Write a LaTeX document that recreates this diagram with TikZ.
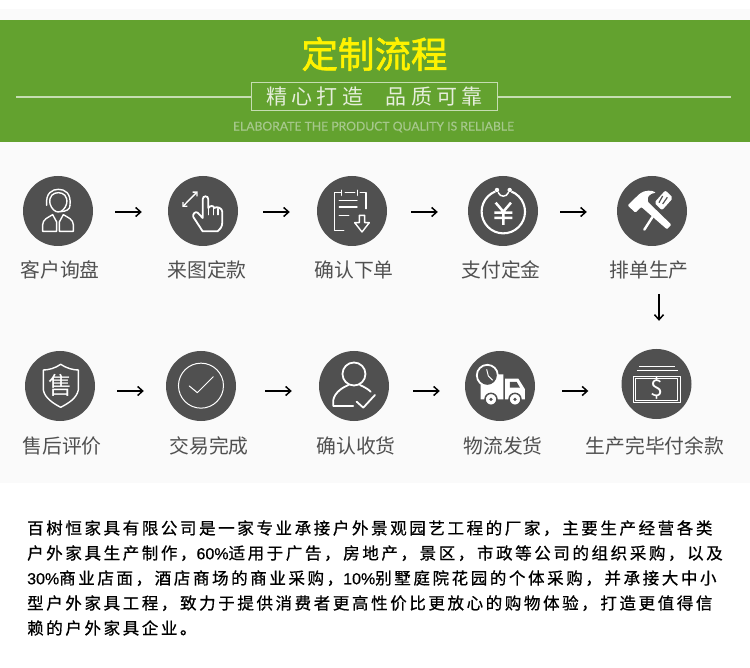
\documentclass[tikz,border=0pt]{standalone}
\usepackage{fontspec}
\setmainfont{Noto Sans CJK SC}
\newfontfamily\latinfont{Lato}
\newfontfamily\digitfont[FakeBold=0.5]{Liberation Sans}
\newcommand{\pct}[1]{{\fontsize{16}{25}\selectfont\digitfont #1\%}}
\usetikzlibrary{arrows.meta}
\definecolor{bannergreen}{HTML}{63A22F}
\definecolor{palegray}{HTML}{FAFAFA}
\definecolor{discgray}{HTML}{505050}
\definecolor{labelgray}{HTML}{505050}
\definecolor{paleline}{HTML}{C6DDB2}
\definecolor{paletext}{HTML}{E6EEDC}
\definecolor{subtext}{HTML}{A6C88C}
\tikzset{
  stepdisc/.style={circle,fill=discgray,minimum size=70pt,inner sep=0pt},
  steplabel/.style={text=labelgray,inner sep=0pt,font=\fontsize{19.8}{24}\selectfont},
  flowarrow/.style={line width=1.8pt,-{Straight Barb[length=5pt,width=9pt,line width=1.5pt]}},
  iconzoom/.style={x=0.3333pt,y=-0.3333pt},
  iconline/.style={draw=white,line width=1.4pt,line join=round,line cap=round},
}
\begin{document}
\begin{tikzpicture}[x=1pt,y=-1pt]
\useasboundingbox (0,0) rectangle (750,668);
\fill[white] (0,0) rectangle (750,668);
\fill[palegray] (0,9) rectangle (750,20);
\fill[bannergreen] (0,20) rectangle (750,142);
\fill[palegray] (0,142) rectangle (750,483);

\node[text=yellow,inner sep=0pt,font=\fontsize{36.5}{40}\selectfont\addfontfeature{FakeBold=1.6}] (title) at (374.5,54) {定制流程};
\node[draw=paleline,line width=0.9pt,minimum width=246pt,minimum height=28pt,inner sep=0pt,text=paletext,font=\fontsize{21}{24}\selectfont\addfontfeature{LetterSpace=20}] (slogan) at (374.5,96.5) {精心打造\hspace{23pt}品质可靠};
\coordinate (ruleleft) at (16,97);
\coordinate (ruleright) at (731,97);
\draw[paleline,line width=1.4pt] (ruleleft) -- (ruleleft -| slogan.west);
\draw[paleline,line width=1.4pt] (ruleright -| slogan.east) -- (ruleright);
\node[text=subtext,inner sep=0pt,font=\fontsize{12.2}{14}\selectfont\latinfont\addfontfeature{FakeBold=0.4}] (subtitle) at (373.5,127) {ELABORATE THE PRODUCT QUALITY IS RELIABLE};

\node[stepdisc] (kehu) at (58,211) {};
\node[stepdisc] (laitu) at (203,211) {};
\node[stepdisc] (queren) at (352,211) {};
\node[stepdisc] (zhifu) at (503,211) {};
\node[stepdisc] (paidan) at (652,211) {};
\node[stepdisc] (pingjia) at (60,386) {};
\node[stepdisc] (jiaoyi) at (201,386) {};
\node[stepdisc] (shouhuo) at (354,386) {};
\node[stepdisc] (wuliu) at (500,386) {};
\node[stepdisc] (yukuan) at (656.5,384) {};

\node[steplabel] (kehutext) at (60,270) {客户询盘};
\node[steplabel] (laitutext) at (207,270) {来图定款};
\node[steplabel] (querentext) at (354,270) {确认下单};
\node[steplabel] (zhifutext) at (501,270) {支付定金};
\node[steplabel] (paidantext) at (649,270) {排单生产};
\node[steplabel] (pingjiatext) at (62,446) {售后评价};
\node[steplabel] (jiaoyitext) at (209,446) {交易完成};
\node[steplabel] (shouhuotext) at (356,446) {确认收货};
\node[steplabel] (wuliutext) at (503,446) {物流发货};
\node[steplabel] (yukuantext) at (655,446) {生产完毕付余款};

\draw[flowarrow,shorten <=22pt,shorten >=26pt] ([yshift=-1pt]kehu.east) -- ([yshift=-1pt]laitu.west);
\draw[flowarrow,shorten <=25pt,shorten >=27pt] ([yshift=-1pt]laitu.east) -- ([yshift=-1pt]queren.west);
\draw[flowarrow,shorten <=24pt,shorten >=30pt] ([yshift=-1pt]queren.east) -- ([yshift=-1pt]zhifu.west);
\draw[flowarrow,shorten <=22pt,shorten >=30pt] ([yshift=-1pt]zhifu.east) -- ([yshift=-1pt]paidan.west);
\coordinate (downstart) at (659,294);
\draw[flowarrow,shorten >=28pt] (downstart) -- (downstart |- yukuan.north);
\draw[flowarrow,shorten <=22pt,shorten >=22pt] ([yshift=-5pt]pingjia.east) -- ([yshift=-5pt]jiaoyi.west);
\draw[flowarrow,shorten <=29pt,shorten >=27pt] ([yshift=-5pt]jiaoyi.east) -- ([yshift=-5pt]shouhuo.west);
\draw[flowarrow,shorten <=24pt,shorten >=25pt] ([yshift=-5pt]shouhuo.east) -- ([yshift=-5pt]wuliu.west);
\draw[flowarrow,shorten <=27pt,shorten >=33pt] ([yshift=-5pt]wuliu.east) -- ([yshift=-7pt]yukuan.west);

\begin{scope}[shift={(20,172)},iconzoom]
\draw[iconline] (80,100) .. controls (76,62) and (98,52) .. (115,52) .. controls (134,52) and (154,62) .. (150,100);
\draw[iconline] (90,95) .. controls (86,72) and (100,62) .. (115,62) .. controls (130,62) and (144,72) .. (140,95) .. controls (136,110) and (125,120) .. (115,120) .. controls (105,120) and (94,110) .. (90,95);
\draw[iconline] (150,100) .. controls (150,112) and (140,118) .. (122,119);
\draw[iconline] (68,178) -- (68,158) .. controls (68,142) and (85,136) .. (98,128) -- (110,150) -- (110,178) -- cycle;
\draw[iconline] (160,178) -- (160,158) .. controls (160,142) and (143,136) .. (130,128) -- (118,150) -- (118,178) -- cycle;
\end{scope}

\begin{scope}[shift={(165,172)},iconzoom]
\draw[iconline,{Straight Barb[length=3pt,width=6pt]}-{Straight Barb[length=3pt,width=6pt]}] (52,105) -- (98,58);
\draw[iconline,line width=1.8pt] (113,178) -- (85,135) .. controls (82,124) and (92,118) .. (98,122) -- (113,138) -- (113,82) .. controls (113,70) and (130,70) .. (130,82) -- (130,108) .. controls (136,100) and (146,100) .. (148,108) .. controls (156,102) and (172,108) .. (172,120) -- (172,150) .. controls (172,165) and (165,172) .. (158,178) -- cycle;
\draw[iconline] (130,108) -- (130,128) (146,108) -- (146,128) (159,110) -- (159,128);
\end{scope}

\begin{scope}[shift={(312,172)},iconzoom]
\draw[iconline] (95,175) -- (68,175) -- (68,62) -- (88,62) (88,55) -- (88,70) (100,62) -- (128,62) (136,55) -- (136,70) (145,62) -- (162,62) -- (162,110);
\draw[iconline] (82,85) -- (135,85) (82,105) -- (135,105) (82,130) -- (110,130);
\draw[iconline] (142,130) -- (158,130) -- (158,152) -- (172,152) -- (150,180) -- (128,152) -- (142,152) -- cycle;
\end{scope}

\begin{scope}[shift={(375,160)},iconzoom]
\draw[iconline,line width=2.1pt,line cap=butt] (385,155) ++(112:21.7pt) arc[start angle=112,end angle=428,radius=21.7pt];
\draw[iconline,line width=1.5pt] (370,98) .. controls (375,112) and (395,112) .. (400,98);
\fill[white] (366,90) circle[radius=2.2pt] (404,90) circle[radius=2.2pt];
\draw[iconline,line width=2.5pt,line cap=butt] (362,128) -- (385,155) -- (408,128) (358,158) -- (412,158) (358,174) -- (412,174) (385,155) -- (385,195);
\end{scope}

\begin{scope}[shift={(612,172)},iconzoom]
\fill[white,rounded corners=1pt] (47,100) -- (80,68) .. controls (100,52) and (120,55) .. (132,62) .. controls (112,65) and (105,75) .. (108,90) -- (178,158) -- (165,172) -- (88,105) -- (70,122) -- cycle;
\fill[white,rounded corners=2pt] (160,55) -- (183,78) -- (150,115) -- (127,92) -- cycle;
\draw[discgray,line width=1.2pt] (152,72) -- (141,92) (166,76) -- (152,96);
\draw[white,line width=2.4pt,line cap=round] (122,134) -- (97,173);
\end{scope}

\begin{scope}[shift={(0,340)},iconzoom]
\draw[iconline] (182,73) .. controls (165,85) and (145,90) .. (130,90) -- (130,150) .. controls (135,175) and (160,190) .. (182,202) .. controls (205,190) and (230,175) .. (235,150) -- (235,90) .. controls (220,90) and (200,85) .. (182,73) -- cycle;
\node[text=white,inner sep=0pt,font=\fontsize{24}{26}\selectfont] (shouicon) at (182,135) {售};
\draw[iconline,line width=1pt] (603,137) circle[radius=22.5pt];
\draw[iconline,line width=1pt] (568,138) -- (592,158) -- (640,110);
\draw[iconline,line width=1.8pt] (1062,102) circle[radius=11.5pt];
\draw[iconline,line width=1.8pt] (1060,198) -- (1000,198) -- (1000,180) .. controls (1005,155) and (1030,142) .. (1045,135) (1080,135) .. controls (1095,142) and (1105,148) .. (1112,155);
\draw[iconline,line width=1.8pt] (1070,185) -- (1090,203) -- (1125,165);
\end{scope}

\begin{scope}[shift={(460,346)},iconzoom]
\fill[white] (62,112) -- (62,160) -- (130,160) -- (130,85) -- (100,85) -- cycle;
\fill[white] (135,98) -- (175,98) -- (195,130) -- (195,160) -- (135,160) -- cycle;
\fill[discgray] (150,108) -- (170,108) -- (180,125) -- (150,125) -- cycle;
\draw[fill=discgray,draw=white,line width=1.8pt] (82,88) circle[radius=10.5pt];
\draw[white,line width=1pt] (80,70) -- (85,90) -- (98,103);
\draw[fill=white,draw=discgray,line width=1.5pt] (93,160) circle[radius=6pt] (165,160) circle[radius=6pt];
\fill[discgray] (93,160) circle[radius=1.8pt] (165,160) circle[radius=1.8pt];
\end{scope}

\begin{scope}[shift={(375,290)},iconzoom]
\draw[iconline,line width=0.9pt,line cap=butt] (775,258) rectangle (915,337) (782,265) rectangle (908,330);
\draw[iconline,line width=0.9pt,line cap=butt] (792,228) -- (900,228) (785,241) -- (908,241);
\node[text=white,inner sep=0pt,font=\fontsize{23}{25}\selectfont] (dollaricon) at (845,296) {\$};
\end{scope}

\node[anchor=west,align=left,inner sep=0pt,text=black,font=\fontsize{16.5}{25}\selectfont\addfontfeature{LetterSpace=15.8,FakeBold=0.7}] (intro) at (27,578) {百树恒家具有限公司是一家专业承接户外景观园艺工程的厂家，主要生产经营各类\\户外家具生产制作，\pct{60}适用于广告，房地产，景区，市政等公司的组织采购，以及\\\pct{30}商业店面，酒店商场的商业采购，\pct{10}别墅庭院花园的个体采购，并承接大中小\\型户外家具工程，致力于提供消费者更高性价比更放心的购物体验，打造更值得信\\赖的户外家具企业。};
\end{tikzpicture}
\end{document}
